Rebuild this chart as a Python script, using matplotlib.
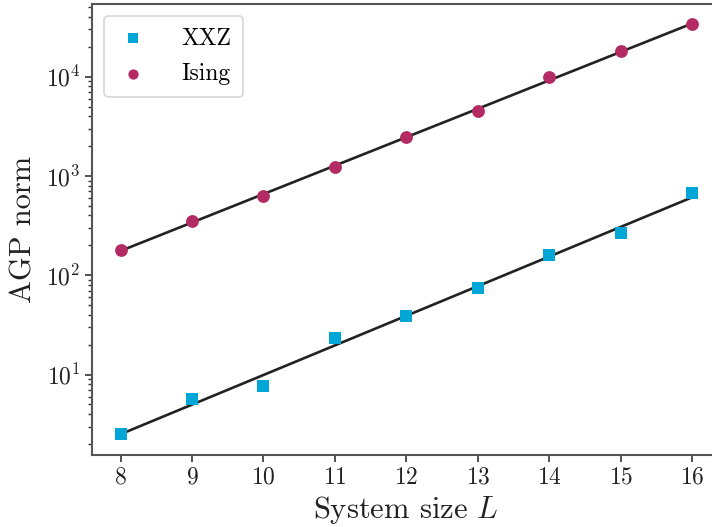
import numpy as np
import matplotlib
matplotlib.use("Agg")
import matplotlib.pyplot as plt

plt.rcParams["font.family"] = "serif"
plt.rcParams["font.serif"] = ["cmr10", "DejaVu Serif"]
plt.rcParams["mathtext.fontset"] = "cm"
plt.rcParams["axes.formatter.use_mathtext"] = True

# System sizes and AGP norms for the two models
system_size = [8, 9, 10, 11, 12, 13, 14, 15, 16]
xxz_norm = [2.53, 5.65, 7.7, 23.1, 39.0, 74.0, 159.0, 269.0, 681.0]
ising_norm = [180.0, 348.0, 635.0, 1245.0, 2440.0, 4460.0, 9890.0, 18200.0, 33500.0]

xxz_color = "#00A6D6"
ising_color = "#B42A62"

fig = plt.figure(figsize=(7.12, 5.27), dpi=100)
ax = fig.add_axes([0.1292, 0.1366, 0.883, 0.856])

L = np.array(system_size, dtype=float)

# exponential fits (straight lines on the log axis)
for vals in (xxz_norm, ising_norm):
    slope, icpt = np.polyfit(L, np.log10(vals), 1)
    ax.plot(L, 10 ** (slope * L + icpt), color="#222222", lw=1.9, zorder=2)

ax.scatter(L, xxz_norm, marker="s", s=80, color=xxz_color, label="XXZ",
           zorder=3, linewidths=0)
ax.scatter(L, ising_norm, marker="o", s=85, color=ising_color, label="Ising",
           zorder=3, linewidths=0)

ax.set_yscale("log")
ax.set_xlim(7.6, 16.4)
ax.set_ylim(1.55, 54000)
ax.set_xticks(system_size)

for side in ("left", "bottom", "right", "top"):
    ax.spines[side].set_color("#555555")
    ax.spines[side].set_linewidth(1.5)
ax.tick_params(axis="both", which="major", labelsize=17, length=5, width=1.2,
               color="#333333", labelcolor="#222222")
ax.tick_params(axis="y", which="minor", length=3, width=1.0, color="#333333")

ax.set_xlabel(r"System size $L$", fontsize=22, color="#222222", labelpad=4)
ax.set_ylabel("AGP norm", fontsize=22, color="#222222", labelpad=6)

leg = ax.legend(loc="upper left", fontsize=17, frameon=True, borderpad=0.5,
                handletextpad=1.3, labelspacing=0.55, markerscale=0.8,
                borderaxespad=0.5, handlelength=1.5)
leg.get_frame().set_edgecolor("#cccccc")
leg.get_frame().set_linewidth(1.2)

fig.savefig("out.png", dpi=100)
